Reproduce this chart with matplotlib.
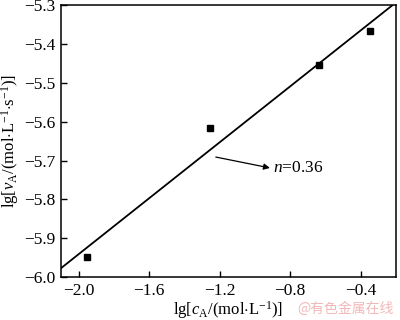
import matplotlib
matplotlib.use("Agg")
import matplotlib.pyplot as plt
import numpy as np

plt.rcParams['font.family'] = ['Liberation Serif', 'DejaVu Serif']
plt.rcParams['mathtext.fontset'] = 'custom'
plt.rcParams['mathtext.rm'] = 'Liberation Serif'
plt.rcParams['mathtext.it'] = 'Liberation Serif:italic'

lg_c = [-1.95, -1.256, -0.637, -0.35]
lg_v = [-5.949, -5.617, -5.455, -5.367]
slope = 0.36
intercept = -5.221
fit_x = [-2.1, -0.2]
xticks = [-2.0, -1.6, -1.2, -0.8, -0.4]
yticks = [-6.0, -5.9, -5.8, -5.7, -5.6, -5.5, -5.4, -5.3]

fig = plt.figure(figsize=(4, 3.2), dpi=100)
ax = fig.add_axes([0.1525, 0.134, 0.8375, 0.85])

fx = np.array(fit_x)
ax.plot(fx, slope * fx + intercept, color='black', lw=1.3)
ax.plot(lg_c, lg_v, 's', color='black', ms=4.5)

ax.set_xlim(-2.1, -0.2)
ax.set_ylim(-6.0, -5.3)
ax.set_xticks(xticks)
ax.set_xticklabels([f"\u2212{abs(t):.1f}" for t in xticks])
ax.set_yticks(yticks)
ax.set_yticklabels([f"\u2212{abs(t):.1f}" for t in yticks])
ax.tick_params(direction='in', length=4, width=1, labelsize=12.5, pad=4)
for s in ax.spines.values():
    s.set_linewidth(1.1)

ax.set_xlabel(r'lg[$\mathit{c}_{\rm A}$/(mol$\cdot$L$^{-1}$)]', fontsize=12, labelpad=0)
ax.set_ylabel(r'lg[$\mathit{v}_{\rm A}$/(mol$\cdot$L$^{-1}$$\cdot$s$^{-1}$)]', fontsize=12, labelpad=2)

ax.annotate('', xy=(-0.915, -5.719), xytext=(-1.222, -5.691),
            arrowprops=dict(arrowstyle='-|>', color='black', lw=0.9, mutation_scale=9,
                            shrinkA=0, shrinkB=0))
ax.text(-0.896, -5.719, r'$\mathit{n}$=0.36', fontsize=12.5, va='center', ha='left')

fig.text(0.985, 0.012, '@有色金属在线', fontsize=10, color='#f2b8b8', ha='right', va='bottom',
         family=['Noto Sans CJK SC', 'DejaVu Sans'])

fig.savefig('out.png', dpi=100)
